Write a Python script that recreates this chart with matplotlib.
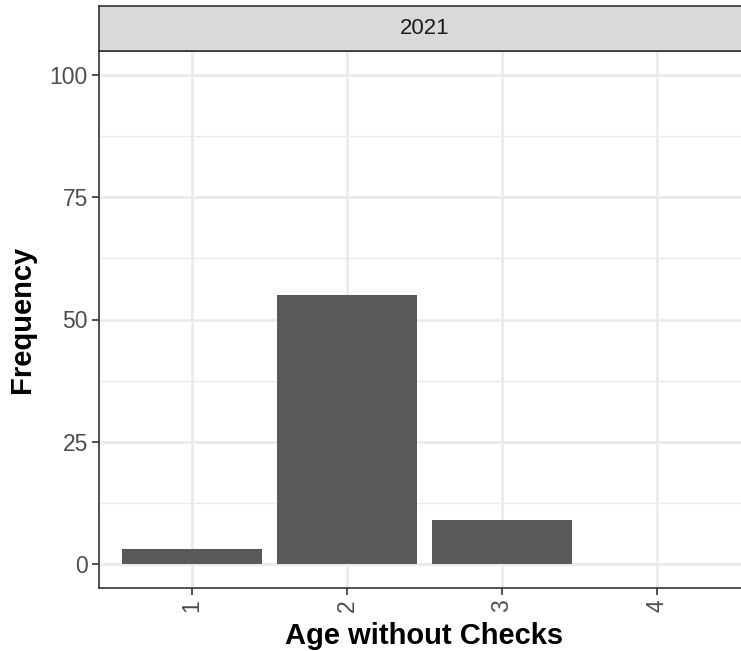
import matplotlib
matplotlib.use("Agg")
import matplotlib.pyplot as plt
from matplotlib.ticker import MultipleLocator

categories = ["1", "2", "3", "4"]
counts = [3, 55, 9, 0]
facet_label = "2021"
y_ticks = [0, 25, 50, 75, 100]

plt.rcParams['font.family'] = ['Liberation Sans', 'DejaVu Sans']

W, H = 741, 651
fig = plt.figure(figsize=(W / 100, H / 100), dpi=100)

L, R, B, T = 99, 750, 588, 51
ax = fig.add_axes([L / W, (H - B) / H, (R - L) / W, (B - T) / H])
strip = fig.add_axes([L / W, (H - T) / H, (R - L) / W, (T - 6) / H])

xs = list(range(1, len(categories) + 1))
ax.bar(xs, counts, width=0.9, color='#595959', zorder=3)
ax.set_xlim(0.4, len(categories) + 0.6)
ax.set_ylim(-5, 105)
ax.set_xticks(xs)
ax.set_xticklabels(categories, rotation=90, va='top', ha='center')
ax.set_yticks(y_ticks)
ax.yaxis.set_minor_locator(MultipleLocator(12.5))
ax.grid(which='major', color='#EBEBEB', linewidth=2.0, zorder=0)
ax.grid(which='minor', axis='y', color='#EBEBEB', linewidth=1.0, zorder=0)
ax.set_axisbelow(True)
ax.tick_params(which='major', length=5, width=1.2, color='#333333',
               labelsize=16.5, labelcolor='#4D4D4D', pad=3)
ax.tick_params(which='minor', length=0)
for s in ax.spines.values():
    s.set_color('#333333')
    s.set_linewidth(1.2)
ax.set_xlabel("Age without Checks", fontsize=21, fontweight='bold', color='black', labelpad=7)
ax.set_ylabel("Frequency", fontsize=21, fontweight='bold', color='black', labelpad=10)

strip.set_facecolor('#D9D9D9')
strip.set_xticks([])
strip.set_yticks([])
for s in strip.spines.values():
    s.set_color('#333333')
    s.set_linewidth(1.2)
strip.text(0.5, 0.5, facet_label, ha='center', va='center', fontsize=16,
           color='#1A1A1A', transform=strip.transAxes)

fig.savefig("out.png", dpi=100, facecolor='white')
